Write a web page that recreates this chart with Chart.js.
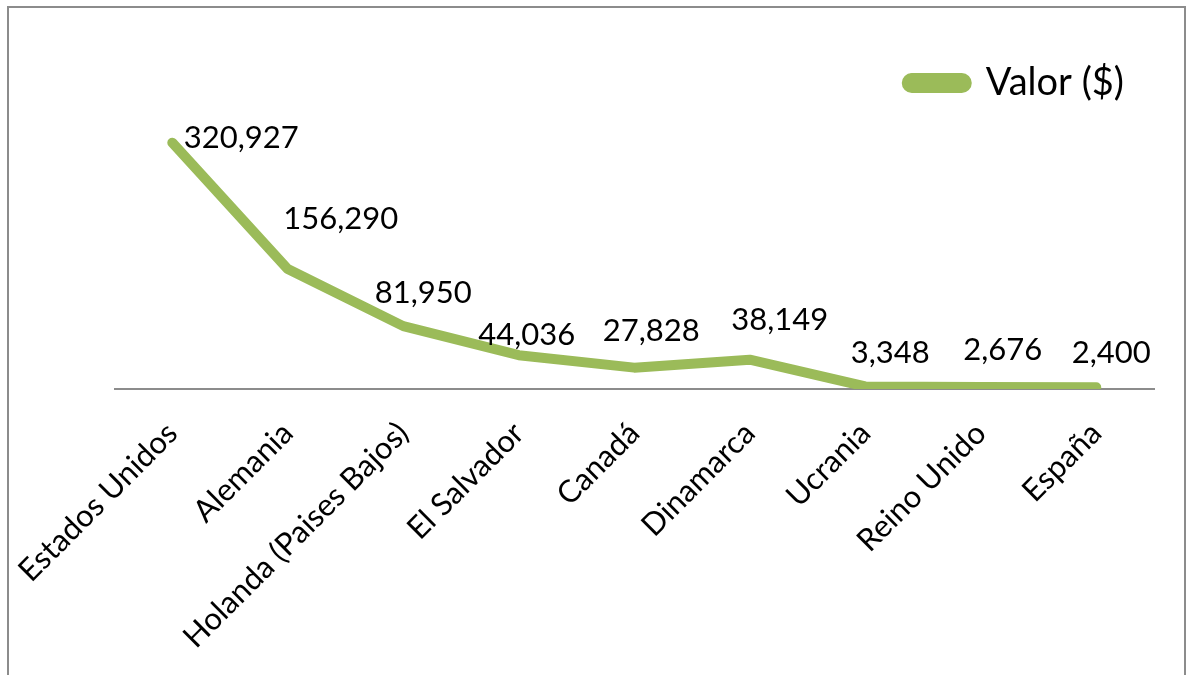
<!DOCTYPE html>
<html>
<head>
<meta charset="utf-8">
<script src="https://cdn.jsdelivr.net/npm/chart.js@4/dist/chart.umd.min.js"></script>
<style>
    html, body { margin: 0; padding: 0; background: #fff; overflow: hidden; }
    #frame { position: absolute; left: 7px; top: 6px; width: 1175px; height: 700px; border: 2px solid #8c8c8c; }
    #box { position: absolute; left: 0; top: 0; width: 1191px; height: 675px; }
</style>
</head>
<body>
<div id="frame"></div>
<div id="box"><canvas id="valorChart" width="1191" height="675"></canvas></div>
<script>
var paises = ['Estados Unidos', 'Alemania', 'Holanda (Paises Bajos)', 'El Salvador', 'Canadá', 'Dinamarca', 'Ucrania', 'Reino Unido', 'España'];
var valores = [320927, 156290, 81950, 44036, 27828, 38149, 3348, 2676, 2400];
var serieNombre = 'Valor ($)';

// label nudges (excel labels were dragged by hand)
var nudgeX = [69, 53, 20, 8, 17, 30, 25, 22, 15];
var nudgeY = [-5, -50, -33, -20, -37, -40, -33, -37, -34];

var verde = '#9bbb59';
var fuente = 'Lato, "Open Sans", sans-serif';

var etiquetas = {
    id: 'etiquetas',
    afterDatasetsDraw: function (chart) {
        var ctx = chart.ctx;
        var meta = chart.getDatasetMeta(0);
        ctx.save();
        ctx.font = '31px ' + fuente;
        ctx.fillStyle = '#000';
        ctx.textAlign = 'center';
        ctx.textBaseline = 'middle';
        meta.data.forEach(function (pt, i) {
            ctx.fillText(valores[i].toLocaleString('en-US'), pt.x + nudgeX[i], pt.y + nudgeY[i]);
        });
        ctx.restore();
    }
};

document.addEventListener("DOMContentLoaded", function () {
    var ctx = document.getElementById('valorChart').getContext('2d');
    var valorChart = new Chart(ctx, {
        type: 'line',
        data: {
            labels: paises,
            datasets: [{
                label: serieNombre,
                data: valores,
                borderColor: verde,
                backgroundColor: verde,
                borderWidth: 10,
                borderCapStyle: 'round',
                borderJoinStyle: 'round',
                pointRadius: 0,
                tension: 0
            }]
        },
        options: {
            responsive: false,
            animation: false,
            devicePixelRatio: 1,
            layout: { padding: { left: 113, right: 37, top: 34, bottom: 0 } },
            plugins: {
                tooltip: { enabled: false },
                legend: {
                    position: 'top',
                    align: 'end',
                    labels: {
                        color: '#000',
                        font: { family: fuente, size: 38 },
                        boxWidth: 60,
                        boxHeight: 10,
                        useBorderRadius: true,
                        borderRadius: 5,
                        padding: 30
                    }
                }
            },
            scales: {
                x: {
                    offset: true,
                    grid: { display: false },
                    border: { display: true, color: '#8c8c8c', width: 2 },
                    ticks: {
                        color: '#000',
                        font: { family: fuente, size: 31 },
                        minRotation: 45,
                        maxRotation: 45,
                        autoSkip: false,
                        padding: 18
                    },
                    afterFit: function (scale) { scale.height = 286; }
                },
                y: {
                    display: false,
                    min: 0,
                    max: 361000
                }
            }
        },
        plugins: [etiquetas]
    });
});
</script>
</body>
</html>
